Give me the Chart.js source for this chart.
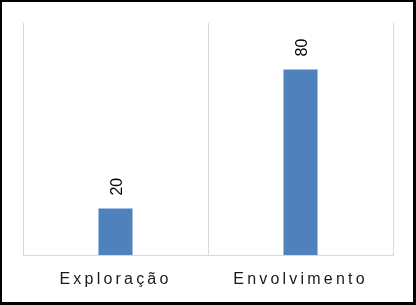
<!DOCTYPE html>
<html>
<head>
<meta charset="utf-8">
<script src="https://cdn.jsdelivr.net/npm/chart.js@4"></script>
<style>
  body { margin: 0; background: #fff; }
  #wrap { position: relative; width: 416px; height: 305px; }
  #frame { position: absolute; left: 0; top: 0; width: 416px; height: 305px; box-sizing: border-box;
           border-style: solid; border-color: #000; border-width: 2px 3px 3px 2px; pointer-events: none; }
</style>
</head>
<body>
<div id="wrap">
  <canvas id="chart" width="416" height="305"></canvas>
  <div id="frame"></div>
</div>
<script>
const categories = ['Exploração', 'Envolvimento'];
const values = [20, 80];

// value labels, rotated, above each bar
const barLabels = {
  id: 'barLabels',
  beforeDraw(chart) {
    chart.ctx.letterSpacing = '3.2px';
  },
  beforeDatasetsDraw(chart) {
    chart.ctx.letterSpacing = '0px';
  },
  afterDatasetsDraw(chart) {
    const ctx = chart.ctx;
    const meta = chart.getDatasetMeta(0);
    ctx.save();
    ctx.font = '16px "Liberation Sans"';
    ctx.fillStyle = '#000';
    ctx.textAlign = 'left';
    ctx.textBaseline = 'alphabetic';
    meta.data.forEach((bar, i) => {
      ctx.save();
      ctx.translate(bar.x + 6, bar.y - 13);
      ctx.rotate(-Math.PI / 2);
      ctx.fillText(String(values[i]), 0, 0);
      ctx.restore();
    });
    ctx.restore();
  }
};

new Chart(document.getElementById('chart').getContext('2d'), {
  type: 'bar',
  data: {
    labels: categories,
    datasets: [{
      data: values,
      backgroundColor: '#4f81bd',
      borderWidth: 0,
      categoryPercentage: 1,
      barPercentage: 0.184
    }]
  },
  options: {
    responsive: false,
    animation: false,
    devicePixelRatio: 1,
    layout: { padding: { left: 23, right: 23, top: 23, bottom: 0 } },
    plugins: { legend: { display: false }, tooltip: { enabled: false } },
    scales: {
      x: {
        grid: { color: '#d9d9d9', lineWidth: 1, drawTicks: false, offset: true },
        border: { color: '#d9d9d9', width: 1 },
        ticks: { color: '#1a1a1a', font: { family: 'Liberation Sans', size: 16 }, padding: 15 },
        afterFit(scale) { scale.height = 50; }
      },
      y: {
        display: false,
        min: 0,
        max: 100
      }
    }
  },
  plugins: [barLabels]
});
</script>
</body>
</html>
